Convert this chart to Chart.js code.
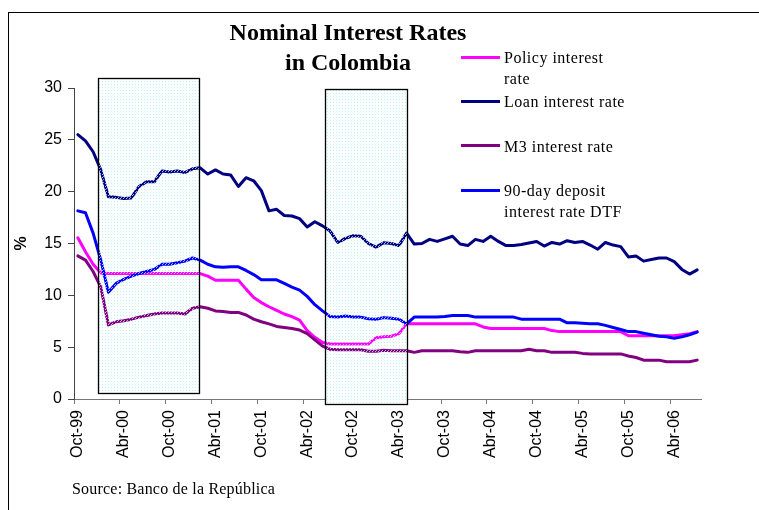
<!DOCTYPE html>
<html lang="en">
<head>
    <meta charset="UTF-8">
    <title>Nominal Interest Rates in Colombia</title>
    <script src="https://cdn.jsdelivr.net/npm/chart.js"></script>
    <style>
        body {
            margin: 0;
            width: 759px;
            height: 510px;
            overflow: hidden;
            background: #fff;
            position: relative;
        }

        #frame {
            position: absolute;
            left: 8px;
            top: 12px;
            width: 800px;
            height: 600px;
            border: 1px solid #000;
        }

        #chart {
            position: absolute;
            left: 0;
            top: 0;
        }

        .serif {
            position: absolute;
            font-family: 'Liberation Serif', 'Times New Roman', serif;
            color: #000;
            white-space: nowrap;
        }

        #title {
            left: 198px;
            top: 17px;
            width: 300px;
            text-align: center;
            font-size: 24px;
            font-weight: bold;
            line-height: 30px;
        }

        .legend-text {
            left: 504px;
            font-size: 16px;
            line-height: 21px;
            letter-spacing: 0.5px;
        }

        .swatch {
            position: absolute;
            left: 461px;
            width: 39px;
            height: 3px;
        }

        #source {
            left: 72px;
            top: 478px;
            font-size: 16px;
            line-height: 21px;
            letter-spacing: 0.2px;
        }
    </style>
</head>
<body>
    <div id="frame"></div>
    <canvas id="chart" width="759" height="510"></canvas>

    <div id="title" class="serif">Nominal Interest Rates<br>in Colombia</div>

    <!-- leyenda -->
    <div class="swatch" style="top:56px;background:#ff00ff"></div>
    <div class="serif legend-text" style="top:47px">Policy interest<br>rate</div>
    <div class="swatch" style="top:100px;background:#000080"></div>
    <div class="serif legend-text" style="top:91px">Loan interest rate</div>
    <div class="swatch" style="top:144px;background:#800080"></div>
    <div class="serif legend-text" style="top:136px">M3 interest rate</div>
    <div class="swatch" style="top:189px;background:#0000ff"></div>
    <div class="serif legend-text" style="top:180px">90-day deposit<br>interest rate DTF</div>

    <div id="source" class="serif">Source: Banco de la República</div>

    <script>
        // Meses (Oct-99 a Jul-06)
        const months = [
            'Oct-99', 'Nov-99', 'Dic-99', 'Ene-00', 'Feb-00', 'Mar-00', 'Abr-00', 'May-00', 'Jun-00', 'Jul-00', 'Ago-00', 'Sep-00',
            'Oct-00', 'Nov-00', 'Dic-00', 'Ene-01', 'Feb-01', 'Mar-01', 'Abr-01', 'May-01', 'Jun-01', 'Jul-01', 'Ago-01', 'Sep-01',
            'Oct-01', 'Nov-01', 'Dic-01', 'Ene-02', 'Feb-02', 'Mar-02', 'Abr-02', 'May-02', 'Jun-02', 'Jul-02', 'Ago-02', 'Sep-02',
            'Oct-02', 'Nov-02', 'Dic-02', 'Ene-03', 'Feb-03', 'Mar-03', 'Abr-03', 'May-03', 'Jun-03', 'Jul-03', 'Ago-03', 'Sep-03',
            'Oct-03', 'Nov-03', 'Dic-03', 'Ene-04', 'Feb-04', 'Mar-04', 'Abr-04', 'May-04', 'Jun-04', 'Jul-04', 'Ago-04', 'Sep-04',
            'Oct-04', 'Nov-04', 'Dic-04', 'Ene-05', 'Feb-05', 'Mar-05', 'Abr-05', 'May-05', 'Jun-05', 'Jul-05', 'Ago-05', 'Sep-05',
            'Oct-05', 'Nov-05', 'Dic-05', 'Ene-06', 'Feb-06', 'Mar-06', 'Abr-06', 'May-06', 'Jun-06', 'Jul-06'
        ];

        const policyRate = [
            15.55, 14.2, 13.0, 12.15, 12.1, 12.1, 12.1, 12.1, 12.1, 12.1, 12.1, 12.1,
            12.1, 12.1, 12.1, 12.1, 12.1, 11.85, 11.45, 11.45, 11.45, 11.45, 10.6, 9.8,
            9.3, 8.9, 8.55, 8.2, 7.95, 7.6, 6.6, 5.95, 5.45, 5.3, 5.3, 5.3,
            5.3, 5.3, 5.3, 5.9, 6.0, 6.05, 6.3, 7.25, 7.25, 7.25, 7.25, 7.25,
            7.25, 7.25, 7.25, 7.25, 7.25, 6.95, 6.8, 6.8, 6.8, 6.8, 6.8, 6.8,
            6.8, 6.8, 6.6, 6.5, 6.5, 6.5, 6.5, 6.5, 6.5, 6.5, 6.5, 6.5,
            6.1, 6.1, 6.1, 6.1, 6.1, 6.1, 6.1, 6.2, 6.3, 6.5
        ];

        const loanRate = [
            25.5, 24.9, 23.85, 22.1, 19.5, 19.45, 19.35, 19.4, 20.5, 20.95, 20.95, 22.0,
            21.9, 22.0, 21.85, 22.2, 22.3, 21.7, 22.1, 21.7, 21.6, 20.5, 21.35, 21.05,
            20.1, 18.15, 18.3, 17.7, 17.65, 17.4, 16.6, 17.1, 16.7, 16.2, 15.1, 15.5,
            15.75, 15.7, 15.0, 14.65, 15.07, 15.0, 14.8, 16.0, 14.95, 15.0, 15.4, 15.2,
            15.45, 15.7, 14.95, 14.8, 15.4, 15.2, 15.7, 15.2, 14.8, 14.8, 14.9, 15.05,
            15.2, 14.75, 15.1, 14.95, 15.27, 15.1, 15.2, 14.85, 14.45, 15.1, 14.85, 14.7,
            13.7, 13.8, 13.3, 13.45, 13.6, 13.6, 13.25, 12.5, 12.05, 12.45
        ];

        const m3Rate = [
            13.8, 13.4, 12.3, 10.8, 7.15, 7.45, 7.55, 7.7, 7.9, 8.05, 8.2, 8.3,
            8.3, 8.3, 8.2, 8.75, 8.9, 8.75, 8.5, 8.45, 8.35, 8.35, 8.1, 7.7,
            7.45, 7.25, 7.0, 6.9, 6.8, 6.65, 6.3, 5.7, 5.1, 4.8, 4.75, 4.75,
            4.75, 4.75, 4.6, 4.6, 4.7, 4.65, 4.65, 4.65, 4.5, 4.65, 4.65, 4.65,
            4.65, 4.65, 4.55, 4.5, 4.65, 4.65, 4.65, 4.65, 4.65, 4.65, 4.65, 4.8,
            4.65, 4.65, 4.5, 4.5, 4.5, 4.5, 4.4, 4.35, 4.35, 4.35, 4.35, 4.35,
            4.15, 4.0, 3.75, 3.75, 3.75, 3.6, 3.6, 3.6, 3.6, 3.75
        ];

        const dtfRate = [
            18.15, 17.97, 16.0, 13.4, 10.3, 11.15, 11.55, 11.85, 12.1, 12.3, 12.5, 13.0,
            13.0, 13.15, 13.3, 13.6, 13.4, 13.0, 12.75, 12.7, 12.75, 12.75, 12.4, 12.0,
            11.5, 11.5, 11.5, 11.15, 10.8, 10.5, 9.9, 9.1, 8.5, 7.95, 7.9, 8.0,
            7.9, 7.9, 7.75, 7.7, 7.85, 7.8, 7.7, 7.25, 7.9, 7.9, 7.9, 7.9,
            7.95, 8.05, 8.05, 8.05, 7.9, 7.9, 7.9, 7.9, 7.9, 7.9, 7.7, 7.7,
            7.7, 7.7, 7.7, 7.7, 7.35, 7.35, 7.3, 7.25, 7.25, 7.1, 6.9, 6.7,
            6.5, 6.5, 6.35, 6.2, 6.05, 6.0, 5.85, 6.0, 6.2, 6.45
        ];

        const yTicks = [0, 5, 10, 15, 20, 25, 30];

        // Periodos sombreados (índice de mes y rango en %)
        const shadeStart = [2.64, 32.35];
        const shadeEnd = [15.84, 43.0];
        const shadeLow = [0.55, -0.5];
        const shadeHigh = [30.95, 29.9];

        const dotPattern = (ctx) => {
            const c = document.createElement('canvas');
            c.width = 3;
            c.height = 3;
            const g = c.getContext('2d');
            g.fillStyle = 'rgba(180,236,242,0.8)';
            g.fillRect(0, 0, 1, 1);
            g.fillStyle = 'rgba(255,255,255,0.6)';
            g.fillRect(1, 2, 1, 1);
            return ctx.createPattern(c, 'repeat');
        };

        const shadeRects = (chart) => {
            const x = chart.scales.x, y = chart.scales.y;
            return shadeStart.map((s, i) => {
                const x0 = Math.round(x.getPixelForValue(s)) + 0.5;
                const x1 = Math.round(x.getPixelForValue(shadeEnd[i])) + 0.5;
                const y0 = Math.round(y.getPixelForValue(shadeHigh[i])) + 0.5;
                const y1 = Math.round(y.getPixelForValue(shadeLow[i])) + 0.5;
                return [x0, y0, x1 - x0, y1 - y0];
            });
        };

        const shadePlugin = {
            id: 'shade',
            beforeDatasetsDraw(chart) {
                const ctx = chart.ctx;
                ctx.save();
                ctx.fillStyle = '#fcfefe';
                shadeRects(chart).forEach(r => ctx.fillRect(...r));
                ctx.restore();
            },
            afterDatasetsDraw(chart) {
                const ctx = chart.ctx;
                ctx.save();
                ctx.fillStyle = dotPattern(ctx);
                ctx.strokeStyle = '#000';
                ctx.lineWidth = 1.3;
                shadeRects(chart).forEach(r => {
                    ctx.fillRect(...r);
                    ctx.strokeRect(...r);
                });
                ctx.restore();
            }
        };

        const line = (label, data, color) => ({
            label: label,
            data: data,
            borderColor: color,
            backgroundColor: color,
            borderWidth: 3,
            pointRadius: 0,
            tension: 0,
            borderJoinStyle: 'round',
            borderCapStyle: 'round'
        });

        new Chart(document.getElementById('chart'), {
            type: 'line',
            data: {
                labels: months,
                datasets: [
                    line('Loan interest rate', loanRate, '#000080'),
                    line('90-day deposit interest rate DTF', dtfRate, '#0000ff'),
                    line('M3 interest rate', m3Rate, '#800080'),
                    line('Policy interest rate', policyRate, '#ff00ff')
                ]
            },
            options: {
                responsive: false,
                animation: false,
                devicePixelRatio: 1,
                layout: { padding: { left: 8, top: 88, right: 58, bottom: 0 } },
                plugins: {
                    legend: { display: false },
                    tooltip: { enabled: false }
                },
                scales: {
                    x: {
                        offset: true,
                        afterFit: scale => { scale.height = 111; },
                        border: { display: true, color: '#777', width: 1 },
                        grid: {
                            offset: true,
                            drawOnChartArea: false,
                            drawTicks: true,
                            tickLength: 5,
                            tickColor: ctx => ctx.index % 6 === 0 ? '#777' : 'rgba(0,0,0,0)'
                        },
                        ticks: {
                            autoSkip: false,
                            maxRotation: 90,
                            minRotation: 90,
                            padding: 6,
                            color: '#000',
                            font: { family: 'Liberation Sans', size: 16 },
                            callback: function (value, index) {
                                return index % 6 === 0 ? this.getLabelForValue(value) : '';
                            }
                        }
                    },
                    y: {
                        min: 0,
                        max: 30,
                        afterFit: scale => { scale.width = 66; },
                        afterBuildTicks: scale => { scale.ticks = yTicks.map(v => ({ value: v })); },
                        border: { display: true, color: '#444', width: 1 },
                        grid: {
                            drawOnChartArea: false,
                            drawTicks: true,
                            tickLength: 6,
                            tickColor: '#444'
                        },
                        ticks: {
                            padding: 6,
                            color: '#000',
                            font: { family: 'Liberation Sans', size: 16 }
                        },
                        title: {
                            display: true,
                            text: '%',
                            color: '#000',
                            font: { family: 'Liberation Sans', size: 16, weight: 'bold' }
                        }
                    }
                }
            },
            plugins: [shadePlugin]
        });
    </script>
</body>
</html>
